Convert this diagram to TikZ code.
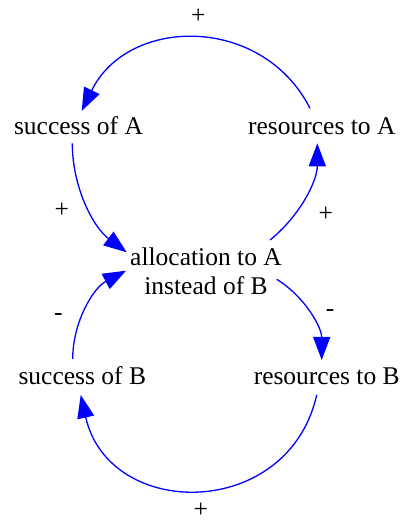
\documentclass[tikz,border=0pt]{standalone}
\usepackage{fontspec}
\setmainfont{Liberation Serif}
\newfontfamily\diagfont{Liberation Serif}
\usetikzlibrary{arrows.meta}
\begin{document}
\begin{tikzpicture}[x=1pt,y=1pt,
  var/.style={inner sep=0pt, font=\diagfont\fontsize{25.5}{28.3}\selectfont},
  pol/.style={inner sep=0pt, anchor=base, font=\diagfont\fontsize{25.5}{28.3}\selectfont},
  link/.style={draw=blue, line width=1.3pt, -{Triangle[length=23pt,width=17pt,fill=blue]}}]
\useasboundingbox (0,0) rectangle (403,521);
\node[var, anchor=base] (sa) at (78.5,386.7) {success of A};
\node[var, anchor=base] (ra) at (321.8,386) {resources to A};
\node[var, align=center] (al) at (206,249.8) {allocation to A\\instead of B};
\node[var, anchor=base] (sb) at (82.3,136.7) {success of B};
\node[var, anchor=base] (rb) at (326.7,136.7) {resources to B};
% connectors
\draw[link] ([shift={(-11.8,26.7)}]ra.base) to[out=117,in=64,looseness=1.18] ([shift={(3.2,23.3)}]sa.base);
\draw[link] ([shift={(-6.2,-9)}]sa.base) to[out=270,in=143,looseness=0.9] ([shift={(-79.3,18.9)}]al.center);
\draw[link] ([shift={(64,31.2)}]al.center) to[out=38.8,in=270,looseness=0.9] ([shift={(-4.5,-8.3)}]ra.base);
\draw[link] ([shift={(70.7,-8.1)}]al.center) to[out=-31.7,in=90,looseness=0.91] ([shift={(-5,24.3)}]rb.base);
\draw[link] ([shift={(-10,-10.7)}]rb.base) to[out=257.3,in=282.7,looseness=1.4] ([shift={(-1.6,-10.7)}]sb.base);
\draw[link] ([shift={(-9.6,25.3)}]sb.base) to[out=90,in=207.8,looseness=0.92] ([shift={(-80,0.5)}]al.center);
% polarities
\node[pol] (p1) at (198.3,497.9) {+};
\node[pol] (p2) at (61.7,303.9) {+};
\node[pol] (p3) at (325.7,299.6) {+};
\node[pol] (p4) at (58.3,200.3) {-};
\node[pol] (p5) at (330,204.6) {-};
\node[pol] (p6) at (200.7,3.5) {+};
\end{tikzpicture}
\end{document}
